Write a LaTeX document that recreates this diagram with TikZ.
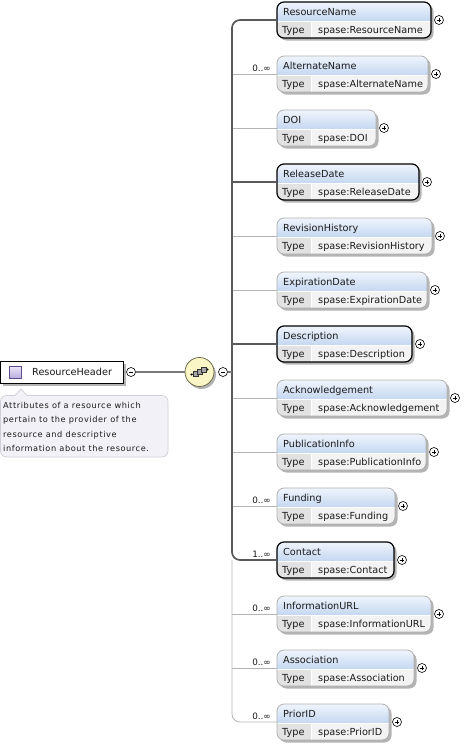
\documentclass[tikz,border=0pt]{standalone}
\usepackage{fontspec}
\setmainfont{DejaVu Sans}
\newfontfamily\annfont[LetterSpace=7]{DejaVu Sans}
\definecolor{hdtop}{HTML}{F0F5FC}
\definecolor{hdbot}{HTML}{C4D7F1}
\definecolor{typec}{HTML}{E2E2E2}
\definecolor{valc}{HTML}{F3F3F3}
\definecolor{optborder}{HTML}{B0B0B0}
\definecolor{shadowc}{HTML}{B4B4B4}
\definecolor{trunkc}{HTML}{5A5A5A}
\definecolor{optline}{HTML}{B4B4B4}
\definecolor{annfill}{HTML}{F2F1F7}
\definecolor{annborder}{HTML}{D0CED8}
\definecolor{compfill}{HTML}{FAF6C6}
\definecolor{compborder}{HTML}{6E6B4A}
\definecolor{icontop}{HTML}{ECE8FA}
\definecolor{iconbot}{HTML}{B8ACDC}
\definecolor{iconborder}{HTML}{5A4A8A}
\definecolor{txt}{HTML}{1A1A1A}
\begin{document}
\begin{tikzpicture}[x=1pt,y=-1pt,
  elbox/.style={rectangle, rounded corners=7pt, minimum height=36pt, inner sep=0pt, outer sep=0pt},
  hdlabel/.style={anchor=base west, inner sep=0pt, text=txt, font=\fontsize{9.7}{11}\selectfont},
  tylabel/.style={anchor=base west, inner sep=0pt, text=txt, font=\fontsize{9.7}{11}\selectfont},
  card/.style={anchor=base east, inner sep=0pt, text=txt, font=\fontsize{8.8}{10}\selectfont},
  doctext/.style={anchor=base west, inner sep=0pt, text=txt, font=\annfont\fontsize{8.2}{9}\selectfont},
  plus/.style={circle, draw=black, fill=white, line width=0.6pt, minimum size=9pt, inner sep=0pt,
    path picture={\draw[line width=0.6pt] ([xshift=-2.4pt]path picture bounding box.center) -- ([xshift=2.4pt]path picture bounding box.center)
      ([yshift=-2.4pt]path picture bounding box.center) -- ([yshift=2.4pt]path picture bounding box.center);}},
  minus/.style={circle, draw=black, fill=white, line width=0.6pt, minimum size=9pt, inner sep=0pt,
    path picture={\draw[line width=0.6pt] ([xshift=-2.4pt]path picture bounding box.center) -- ([xshift=2.4pt]path picture bounding box.center);}},
  mandconn/.style={draw=trunkc, line width=1.7pt},
  optconn/.style={draw=optline, line width=0.8pt},
  rootconn/.style={draw=trunkc!80, line width=1.1pt},
  rootbox/.style={rectangle, draw=black, fill=white, line width=1pt, minimum width=123pt, minimum height=22pt, inner sep=0pt},
  rooticon/.style={rectangle, draw=iconborder, line width=0.6pt, top color=icontop, bottom color=iconbot, minimum size=12pt, inner sep=0pt},
  comp/.style={circle, draw=compborder, fill=compfill, line width=0.8pt, minimum size=29pt, inner sep=0pt}
]
\useasboundingbox (0,0) rectangle (464,748);

% ---------- child elements ----------
\foreach \k/\nm/\rx/\mm in {0/ResourceName/431/1,1/AlternateName/428/0,2/DOI/376/0,3/ReleaseDate/419/1,
  4/RevisionHistory/432/0,5/ExpirationDate/427/0,6/Description/412/1,7/Acknowledgement/447/0,
  8/PublicationInfo/426/0,9/Funding/395/0,10/Contact/394/1,11/InformationURL/431/0,
  12/Association/414/0,13/PriorID/389/0}{
  \pgfmathsetmacro\cy{20+54*\k}
  \pgfmathsetmacro\ww{\rx-277}
  \pgfmathsetmacro\mx{(277+\rx)/2}
  \ifnum\mm=1 \def\bcol{black}\def\bw{1.2pt}\else\def\bcol{optborder}\def\bw{0.8pt}\fi
  \fill[shadowc, rounded corners=7pt] (279.5,\cy-15.5) rectangle (\rx+2.5,\cy+20.5);
  \begin{scope}
    \clip[rounded corners=7pt] (277,\cy-18) rectangle (\rx,\cy+18);
    \shade[top color=hdtop, bottom color=hdbot] (277,\cy-18) rectangle (\rx,\cy+1);
    \fill[typec] (277,\cy+1) rectangle (311,\cy+18);
    \fill[valc] (311,\cy+1) rectangle (\rx,\cy+18);
    \draw[white, line width=0.8pt] (311,\cy+1) -- (311,\cy+18);
    \draw[white, line width=0.6pt] (277,\cy+1) -- (\rx,\cy+1);
  \end{scope}
  \node[elbox, draw=\bcol, line width=\bw, minimum width=\ww pt] (el\k) at (\mx,\cy) {};
  \node[hdlabel] (el\k-h) at (283,\cy-5) {\nm};
  \node[tylabel] (el\k-t) at (282,\cy+13) {Type};
  \node[tylabel] (el\k-v) at (318,\cy+13) {spase:\nm};
  \node[plus] (el\k-p) at (\rx+8,\cy) {};
}

% ---------- cardinalities ----------
\foreach \k/\cd in {1/0..∞,9/0..∞,10/1..∞,11/0..∞,12/0..∞,13/0..∞}{
  \node[card] (card\k) at (271,{17+54*\k}) {\cd};
}

% ---------- connectors ----------
\draw[optconn] (232,560) [rounded corners=8pt] |- (el13.west);
\foreach \k in {1,2,4,5,7,8,9,11,12}{
  \draw[optconn] (232,{20+54*\k}) -- (el\k.west);
}
\draw[mandconn] (el0.west) [rounded corners=8pt] -| (232,560) [sharp corners] -- (el10.west);
\foreach \k in {3,6}{
  \draw[mandconn] (232,{20+54*\k}) -- (el\k.west);
}

% ---------- root element ----------
\fill[shadowc] (2.5,363.5) rectangle (125.5,385.5);
\node[rootbox] (root) at (61.5,372) {};
\node[rooticon] (rooticon) at (15.5,372) {};
\node[hdlabel] (roottext) at (32,375.5) {ResourceHeader};
\node[minus] (rootm) at (131,372) {};

% ---------- sequence compositor ----------
\fill[shadowc] (201.5,374.5) circle (14.5);
\node[comp] (comp) at (199.5,372) {};
\node[minus] (compm) at (223,372) {};
\coordinate (tj) at (232,372);
\draw[rootconn] (rootm.east) -- (comp.west);
\draw[rootconn] (compm.east) -- (tj);
\begin{scope}[shift={(comp.center)}]
  \draw[black, line width=0.7pt] (-8,2.5) -- (8,-2.5);
  \fill[black] (-8,2.5) circle (1.1) (8,-2.5) circle (1.1);
  \foreach \dx/\dy in {-4/2,0/0,4/-2}{
    \filldraw[fill=gray!70, draw=black!80, line width=0.5pt] (\dx-2.6,\dy-2.6) rectangle (\dx+2.6,\dy+2.6);
  }
\end{scope}

% ---------- annotation ----------
\draw[annborder, fill=annfill, line width=0.7pt] (15,395.5) -- (21,389) -- (27,395.5)
  [rounded corners=6pt] -- (168,395.5) -- (168,457) -- (0.5,457) -- (0.5,395.5) [sharp corners] -- cycle;
\node[doctext] (doc1) at (3,408) {Attributes of a resource which};
\node[doctext] (doc2) at (3,422.5) {pertain to the provider of the};
\node[doctext] (doc3) at (3,437) {resource and descriptive};
\node[doctext] (doc4) at (3,451) {information about the resource.};
\end{tikzpicture}
\end{document}
